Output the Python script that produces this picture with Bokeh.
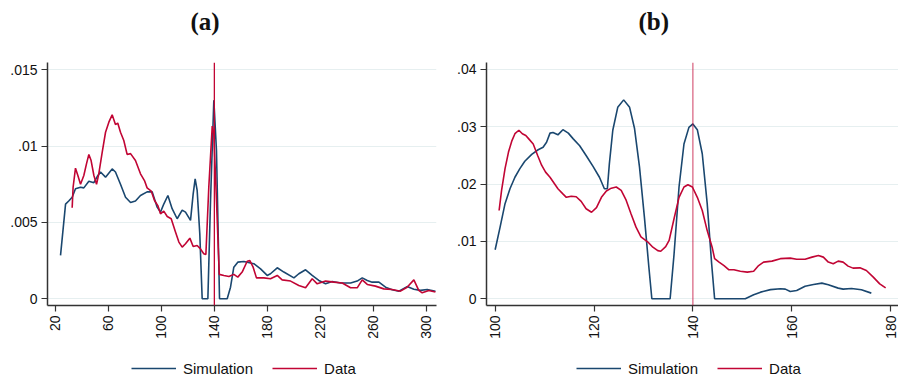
import math
from bokeh.plotting import figure
from bokeh.layouts import row, column
from bokeh.models import Span, Legend, FixedTicker, Title
from bokeh.embed import file_html
from bokeh.resources import INLINE

# ---------------- Panel (a) data ----------------
sim_a_x = [23.8, 27.6, 30, 32.6, 35.1, 38.9, 41.4, 45.2, 49, 51.5, 54, 57.8, 62.8, 65.3, 69.1, 72.9,
           76.7, 80.4, 84.2, 89.2, 93, 96.8, 99.3, 101.8, 104.9, 108.1, 111.9, 115.7, 118.2, 122,
           124, 125.5, 127, 129, 130.8, 135.1, 137.1, 139.6, 141.6, 143.9, 149.7, 152.2, 154.7,
           157.7, 162.3, 169.8, 174.9, 179.9, 182.4, 187.5, 192.5, 200.1, 203.8, 208.9, 213.9,
           218.9, 224, 229, 235.3, 242.9, 247.9, 251.7, 255.5, 259.2, 264.3, 269.3, 274.3, 279.4,
           285.6, 290.7, 295.7, 300.8, 307]
sim_a_y = [2.84, 6.2, 6.4, 6.65, 7.2, 7.3, 7.26, 7.7, 7.6, 8.0, 8.3, 7.96, 8.5, 8.3, 7.5, 6.65,
           6.3, 6.4, 6.76, 7.0, 7.0, 6.0, 5.67, 6.2, 6.76, 5.9, 5.24, 5.8, 5.67, 5.13,
           6.87, 7.85, 7.1, 4.25, 0, 0, 6.4, 13.0, 9.7, 0, 0, 0.76, 2.07,
           2.4, 2.44, 2.3, 1.96, 1.53, 1.64, 2.03, 1.75, 1.37, 1.64, 1.9, 1.53,
           1.2, 0.98, 1.13, 1.03, 1.03, 1.16, 1.37, 1.2, 1.09, 1.09, 0.76, 0.59, 0.5,
           0.8, 0.63, 0.55, 0.61, 0.5]

dat_a_x = [32.6, 33.3, 35.1, 36.9, 38.9, 41.4, 43.4, 45.2, 46.9, 49, 51, 52.7, 55.3, 57.8, 60.3,
           62.8, 65.3, 67, 69.1, 71.6, 74.1, 76.7, 80.4, 84.2, 87.2, 89.2, 92.3, 94.8, 97.3, 99.3,
           101.8, 104.4, 107.4, 110.7, 113.2, 115.7, 118.2, 121.5, 124, 127, 129.5, 132, 133.6,
           135.8, 138.4, 139.6, 141.6, 143.7, 147.2, 151, 154.7, 157.7, 161, 164.8, 166.8, 169.3,
           171.8, 177.4, 182.4, 187.5, 191.2, 197.6, 203.8, 208.9, 213.9, 217.7, 224, 230.3,
           236.6, 242.9, 247.9, 251.7, 255.5, 261.7, 268, 274.3, 280.6, 285.6, 290.7, 294.4,
           297, 302, 307]
dat_a_y = [5.96, 7.3, 8.55, 8.07, 7.5, 8.07, 8.83, 9.45, 9.05, 8.07, 7.5, 8.18, 9.6, 10.9, 11.56,
           12.04, 11.4, 11.5, 10.9, 10.36, 9.45, 9.5, 9.05, 8.18, 7.74, 7.26, 7.05, 6.43, 6.1, 5.56,
           5.74, 5.39, 5.24, 4.36, 3.71, 3.38, 3.6, 3.97, 3.42, 3.49, 3.27, 2.95, 2.9,
           7.3, 11.3, 10.8, 6.43, 1.6, 1.53, 1.46, 1.6, 1.42, 1.75, 2.46, 2.5, 2.07,
           1.37, 1.37, 1.31, 1.53, 1.24, 1.16, 0.87, 0.72, 1.31, 0.98, 1.16, 1.09,
           1.03, 0.72, 0.72, 1.24, 0.94, 0.83, 0.65, 0.61, 0.5, 0.76, 1.24, 0.55,
           0.39, 0.55, 0.44]

# ---------------- Panel (b) data ----------------
sim_b_x = [100, 101, 102, 103, 104, 105, 106, 107.4, 108.7, 109.7, 110.4, 111.1, 111.7, 112.7,
           113.7, 114.8, 115.8, 117.1, 118.4, 119.8, 121.1, 122.1, 122.7, 123.1, 123.8, 124.8,
           126, 127.2, 128.2, 129.2, 130.2, 131.1, 131.7, 135.4, 136.2, 137.2, 138.2, 139.2,
           140, 140.9, 141.9, 142.9, 143.8, 144.4, 150.6, 152.3, 153.7, 155.7, 157.7, 158.7,
           159.7, 161, 162.7, 164.4, 166.1, 167.4, 169.4, 170.4, 172.1, 174.1, 176.1]
sim_b_y = [8.55, 12.5, 16.6, 19.2, 21.2, 22.7, 24, 25.2, 26, 26.45, 27.3, 28.9, 29, 28.6,
           29.5, 28.9, 27.9, 26.7, 25, 23.1, 21.2, 19.2, 19.2, 23.5, 29.4, 33.4,
           34.7, 33.4, 29.7, 23, 14.2, 5.5, 0, 0, 7.85, 19.5, 27, 29.9,
           30.5, 29.5, 25.3, 16.6, 6.1, 0, 0, 0.7, 1.16, 1.6, 1.74, 1.69,
           1.28, 1.45, 2.2, 2.5, 2.73, 2.44, 1.86, 1.69, 1.8, 1.57, 0.99]

dat_b_x = [100.8, 101.3, 102, 102.7, 103.4, 104, 104.8, 105.5, 106.2, 106.8, 107.7, 108.6, 109.4,
           110.2, 111.1, 111.9, 112.7, 113.7, 114.4, 115.4, 116.4, 117.4, 118.4, 119.5, 120.5,
           121.5, 122.5, 123.5, 124.5, 125.5, 126.5, 127.5, 128.5, 129.5, 130.9, 131.9, 132.9,
           133.5, 134.5, 135.2, 136.2, 137.2, 138.2, 139, 139.9, 140.9, 141.9, 142.9, 143.9,
           144.4, 145.3, 146.3, 147.3, 148.3, 149.6, 151, 152.3, 153.3, 154.3, 156, 157.7,
           159.7, 161, 162.7, 164.1, 165.4, 166.4, 167.4, 168.4, 169.4, 170.4, 171.4, 172.4,
           173.8, 175.1, 176.5, 177.8, 179]
dat_b_y = [15.4, 18.9, 22.7, 25.6, 27.6, 28.8, 29.4, 28.8, 28.5, 27.9, 27, 25, 23.3,
           22.1, 21.2, 20.2, 19.2, 18.3, 17.7, 17.9, 17.8, 17, 15.7, 15.1, 15.9,
           17.7, 18.8, 19.3, 19.5, 18.9, 17.2, 14.8, 12.5, 10.8, 9.9, 9.0, 8.4,
           8.3, 9.1, 10.2, 14, 17.7, 19.5, 19.9, 19.5, 17.7, 15.4, 11.9, 9.0,
           7, 6.4, 5.8, 5.06, 5.06, 4.8, 4.65, 4.8, 5.8, 6.4, 6.57, 7,
           7.1, 6.9, 6.9, 7.27, 7.56, 7.27, 6.4, 6.1, 6.57, 6.4, 5.7, 5.35,
           5.4, 4.94, 3.78, 2.6, 1.9]

ticks_a_x = [20, 60, 100, 140, 180, 220, 260, 300]
ticks_a_y = [0, 0.005, 0.01, 0.015]
labels_a_y = ["0", ".005", ".01", ".015"]
ticks_b_x = [100, 120, 140, 160, 180]
ticks_b_y = [0, 0.01, 0.02, 0.03, 0.04]
labels_b_y = ["0", ".01", ".02", ".03", ".04"]
cutoff = 140
titles = ["(a)", "(b)"]
series_names = ["Simulation", "Data"]

NAVY = "#1a476f"
RED = "#c10534"
FONT = "Liberation Sans"
MAIN_H = 348
LEG_H = 33


def make_panel(title, sx, sy, dx, dy, xt, yt, ylab, xr, yr, width, mbl, mbr, toff, span_alpha):
    p = figure(width=width, height=MAIN_H, x_range=xr, y_range=yr, title=None,
               output_backend="svg", toolbar_location=None,
               min_border_left=mbl, min_border_right=mbr, min_border_top=62,
               min_border_bottom=43)
    p.outline_line_color = None
    p.background_fill_color = "white"
    p.border_fill_color = "white"
    spacer = Title(text=" ", text_font_size="10px", standoff=10)
    p.add_layout(spacer, "above")
    t = Title(text=title, align="left", offset=toff, text_font="Liberation Serif",
              text_font_style="bold", text_font_size="25px", text_color="#111111")
    p.add_layout(t, "above")

    p.line(sx, [v / 1000 for v in sy], line_color=NAVY, line_width=1.6)
    p.line(dx, [v / 1000 for v in dy], line_color=RED, line_width=1.6)

    p.add_layout(Span(location=cutoff, dimension="height", line_color=RED,
                      line_width=1.3, line_alpha=span_alpha))

    p.xgrid.visible = False
    p.ygrid.ticker = FixedTicker(ticks=yt)
    p.ygrid.grid_line_color = "#e6eff0"
    p.ygrid.grid_line_width = 1.2

    p.xaxis.ticker = FixedTicker(ticks=xt)
    p.yaxis.ticker = FixedTicker(ticks=yt)
    p.yaxis.major_label_overrides = {t_: l for t_, l in zip(yt, ylab)}
    p.xaxis.major_label_orientation = math.pi / 2
    for ax in (p.xaxis, p.yaxis):
        ax.axis_line_color = "#333333"
        ax.axis_line_width = 1.5
        ax.major_tick_line_color = "#333333"
        ax.major_tick_line_width = 1.2
        ax.major_tick_out = 6
        ax.major_tick_in = 0
        ax.minor_tick_line_color = None
        ax.major_label_text_font = FONT
        ax.major_label_text_font_size = "14px"
        ax.major_label_text_color = "#111111"
        ax.major_label_standoff = 4
    return p


def make_legend(width, mbl, mbr, leg_x, sx, sy, dx, dy):
    # Legend strip: the series are drawn again out of view so the legend keys have real glyphs
    q = figure(width=width, height=LEG_H, x_range=(0, 1), y_range=(1, 2),
               output_backend="svg", toolbar_location=None,
               x_axis_type=None, y_axis_type=None,
               min_border_left=mbl, min_border_right=mbr, min_border_top=0, min_border_bottom=0)
    q.outline_line_color = None
    q.xgrid.visible = False
    q.ygrid.visible = False
    r1 = q.line(sx, [v / 1000 for v in sy], line_color=NAVY, line_width=1.6)
    r2 = q.line(dx, [v / 1000 for v in dy], line_color=RED, line_width=1.6)
    legend = Legend(items=[(series_names[0], [r1]), (series_names[1], [r2])],
                    orientation="horizontal", location=(leg_x, 3))
    legend.border_line_color = None
    legend.background_fill_alpha = 0
    legend.label_text_font = FONT
    legend.label_text_font_size = "15px"
    legend.label_text_color = "#111111"
    legend.glyph_width = 45
    legend.label_standoff = 7
    legend.spacing = 19
    legend.margin = 0
    legend.padding = 2
    q.add_layout(legend, "center")
    return q


pa = make_panel(titles[0], sim_a_x, sim_a_y, dat_a_x, dat_a_y, ticks_a_x, ticks_a_y, labels_a_y,
                (13.96, 307.8), (-0.000438, 0.015465), 448, 47, 12, 143, 1.0)
pb = make_panel(titles[1], sim_b_x, sim_b_y, dat_b_x, dat_b_y, ticks_b_x, ticks_b_y, labels_b_y,
                (98.25, 181.6), (-0.00117, 0.04122), 450, 38, 0, 152, 0.6)
la = make_legend(448, 47, 12, 84, sim_a_x, sim_a_y, dat_a_x, dat_a_y)
lb = make_legend(450, 38, 0, 90, sim_b_x, sim_b_y, dat_b_x, dat_b_y)

layout = row(column(pa, la, spacing=0), column(pb, lb, spacing=0), spacing=0)
open("out.html", "w").write(file_html(layout, INLINE))
